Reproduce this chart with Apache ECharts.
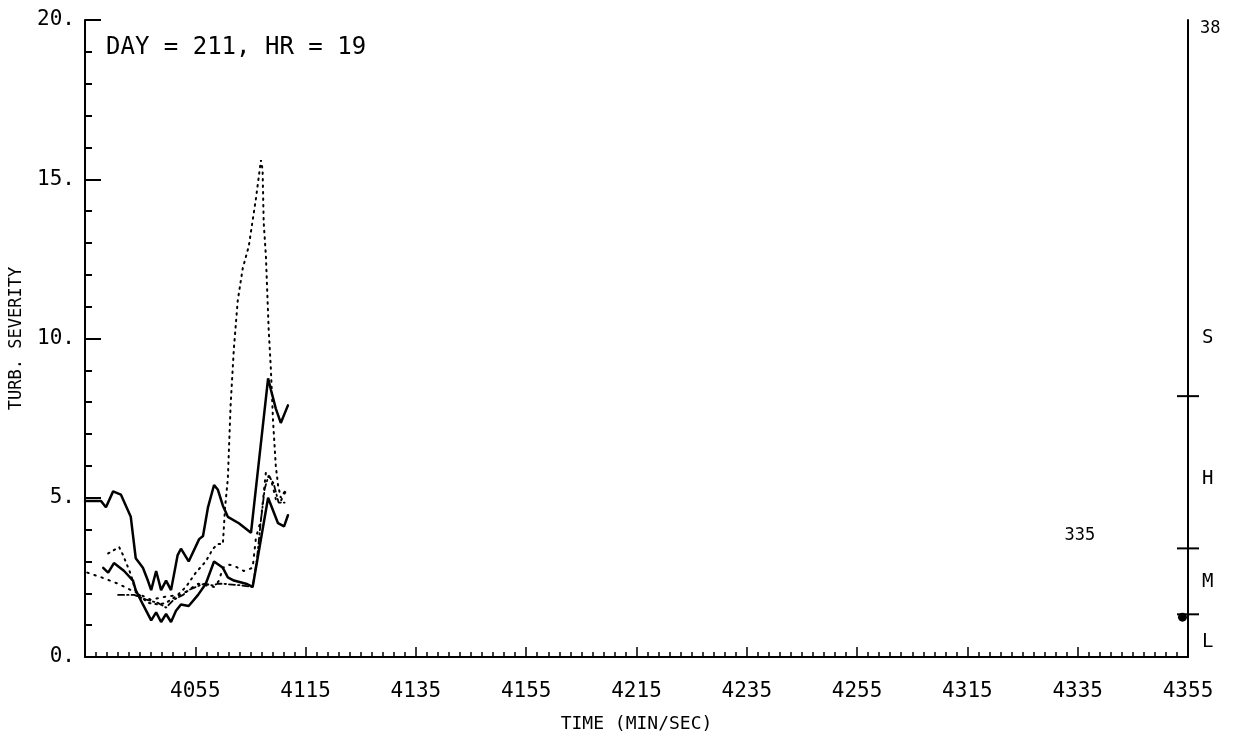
<!DOCTYPE html>
<html><head><meta charset="utf-8">
<script src="https://cdn.jsdelivr.net/npm/echarts/dist/echarts.min.js"></script>
<style>html,body{margin:0;padding:0;background:#fff}#c{width:1240px;height:738px}</style>
</head><body><div id="c"></div>
<script>
// x = seconds after 40:35 (min/sec)
const xTickLabels = ['', '4055', '4115', '4135', '4155', '4215', '4235', '4255', '4315', '4335', '4355'];
const titleText = 'DAY = 211, HR = 19';
const upperSolid = [[0,4.9],[2.9,4.9],[3.8,4.7],[5.1,5.2],[6.5,5.1],[8.3,4.4],[9.2,3.1],[10.5,2.8],[11.4,2.4],[12.0,2.1],[12.9,2.7],[13.8,2.1],[14.7,2.4],[15.6,2.1],[16.8,3.2],[17.4,3.4],[18.8,3.0],[20.7,3.7],[21.4,3.8],[22.3,4.7],[23.4,5.4],[24.1,5.25],[25.0,4.75],[25.9,4.4],[27.9,4.2],[30.1,3.9],[33.2,8.75],[33.7,8.4],[34.6,7.8],[35.5,7.35],[36.8,7.9]];
const lowerSolid = [[3.3,2.8],[4.2,2.65],[5.25,2.95],[7.1,2.7],[8.7,2.4],[9.2,2.1],[10.5,1.65],[12.0,1.15],[12.9,1.4],[13.8,1.1],[14.7,1.35],[15.6,1.1],[16.5,1.45],[17.4,1.65],[18.8,1.6],[20.5,1.95],[21.9,2.3],[23.4,3.0],[25.0,2.8],[25.9,2.5],[27.0,2.4],[29.2,2.3],[30.4,2.2],[33.2,5.0],[34.1,4.6],[35.0,4.2],[36.1,4.1],[36.8,4.45]];
const peakDotted = [[4.2,3.25],[6.2,3.45],[6.9,3.2],[8.3,2.6],[9.2,2.05],[11.4,1.7],[13.2,1.65],[14.7,1.7],[16.5,1.9],[18.3,2.2],[20.1,2.65],[21.9,3.0],[23.2,3.4],[24.1,3.55],[25.0,3.55],[25.4,4.7],[25.9,5.6],[26.4,7.9],[27.0,9.7],[27.7,11.2],[28.6,12.2],[29.7,12.9],[31.0,14.4],[31.9,15.6],[32.2,15.3],[32.4,13.65],[32.8,12.6],[33.3,10.3],[33.7,9.05],[34.1,7.4],[34.6,6.0],[35.0,5.4],[35.5,5.0],[36.4,5.25]];
const lowDotted = [[0.4,2.65],[3.0,2.5],[6.0,2.3],[9.5,2.0],[11.9,1.8],[14.7,1.9],[17.4,1.95],[20.5,2.3],[21.9,2.25],[23.4,2.2],[24.3,2.4],[25.0,2.8],[26.1,2.9],[27.2,2.85],[28.8,2.7],[30.4,2.8],[31.0,3.75],[31.9,4.3],[32.8,5.8],[33.7,5.6],[34.6,4.95],[35.5,4.9],[36.4,5.2]];
const dashDot = [[6.0,1.95],[7.4,1.95],[8.9,1.95],[11.1,1.8],[13.2,1.7],[14.7,1.55],[16.1,1.8],[17.8,1.95],[18.8,2.1],[20.1,2.2],[21.6,2.3],[23.2,2.25],[24.1,2.3],[25.0,2.3],[28.3,2.25],[30.4,2.2],[31.2,3.1],[31.9,4.3],[32.6,5.3],[33.3,5.7],[34.2,5.45],[35.1,4.85],[36.2,4.85]];
const scaleBounds = [1.34, 3.41, 8.19];
const scaleNames = ['L', 'M', 'H', 'S'];
const scaleNamePos = [0.47, 2.34, 5.6, 10.0];
const rightTopLabel = '38';
const currentMarker = [[199, 1.25]];
const annotation = { name: '335', value: [180.4, 3.8] };

const FONT = 'DejaVu Sans Mono';
const chart = echarts.init(document.getElementById('c'), null, { renderer: 'canvas' });
function lineSeries(data, type, width) {
  return { type: 'line', data: data, showSymbol: false, symbol: 'none', smooth: false, animation: false,
    lineStyle: { color: '#000', width: width, type: type, cap: 'round' } };
}
chart.setOption({
  animation: false,
  backgroundColor: '#fff',
  title: { text: titleText, left: 101, top: 31, textStyle: { fontFamily: FONT, fontSize: 24, fontWeight: 'normal', color: '#000' } },
  grid: { left: 84, right: 52, top: 20, bottom: 78, containLabel: false },
  xAxis: {
    type: 'value', min: 0, max: 200, interval: 20,
    name: 'TIME (MIN/SEC)', nameLocation: 'middle', nameGap: 58,
    nameTextStyle: { fontFamily: FONT, fontSize: 18, color: '#000' },
    axisLine: { show: true, lineStyle: { color: '#000', width: 2 } },
    axisTick: { show: true, inside: true, length: 10, lineStyle: { color: '#000', width: 1.5 } },
    minorTick: { show: true, splitNumber: 10, length: 5, lineStyle: { color: '#000', width: 1.5 } },
    splitLine: { show: false }, minorSplitLine: { show: false },
    axisLabel: { margin: 24, fontFamily: FONT, fontSize: 21, color: '#000',
      formatter: function (v) { return xTickLabels[Math.round(v / 20)] || ''; } }
  },
  yAxis: [{
    type: 'value', min: 0, max: 20, interval: 5,
    name: 'TURB. SEVERITY', nameLocation: 'middle', nameGap: 60, nameRotate: 90,
    nameTextStyle: { fontFamily: FONT, fontSize: 17, color: '#000' },
    axisLine: { show: true, lineStyle: { color: '#000', width: 2 } },
    axisTick: { show: true, inside: true, length: 16, lineStyle: { color: '#000', width: 2 } },
    minorTick: { show: true, splitNumber: 5, length: 7, lineStyle: { color: '#000', width: 2 } },
    splitLine: { show: false }, minorSplitLine: { show: false },
    axisLabel: { margin: 10, fontFamily: FONT, fontSize: 21, color: '#000', formatter: function (v) { return v + '.'; } }
  }, {
    type: 'value', min: 0, max: 20, interval: 20, position: 'right',
    axisLine: { show: true, lineStyle: { color: '#000', width: 2 } },
    axisTick: { show: false }, splitLine: { show: false },
    axisLabel: { margin: 12, fontFamily: FONT, fontSize: 17, color: '#000', verticalAlign: 'top',
      formatter: function (v) { return v === 20 ? rightTopLabel : ''; } }
  }],
  series: [
    lineSeries(upperSolid, 'solid', 2.5),
    lineSeries(lowerSolid, 'solid', 2.5),
    lineSeries(peakDotted, [1.5, 5], 2),
    lineSeries(lowDotted, [1.5, 6], 2),
    lineSeries(dashDot, [6, 3, 1.5, 3], 1.8),
    { type: 'scatter', yAxisIndex: 1, clip: false, symbol: 'rect', symbolSize: [22, 2],
      itemStyle: { color: '#000', opacity: 1 }, data: scaleBounds.map(function (b) { return [200, b]; }) },
    { type: 'scatter', yAxisIndex: 1, clip: false, symbolSize: 0, itemStyle: { opacity: 1 },
      label: { show: true, position: 'right', distance: 14, fontFamily: FONT, fontSize: 19, color: '#000',
        formatter: function (p) { return p.name; } },
      data: scaleNames.map(function (n, i) { return { name: n, value: [200, scaleNamePos[i]] }; }) },
    { type: 'scatter', clip: false, symbol: 'circle', symbolSize: 9, itemStyle: { color: '#000', opacity: 1 }, data: currentMarker },
    { type: 'scatter', clip: false, symbolSize: 0, itemStyle: { opacity: 1 },
      label: { show: true, position: 'inside', fontFamily: FONT, fontSize: 17, color: '#000', formatter: function (p) { return p.name; } },
      data: [annotation] }
  ]
});
</script>
</body></html>
